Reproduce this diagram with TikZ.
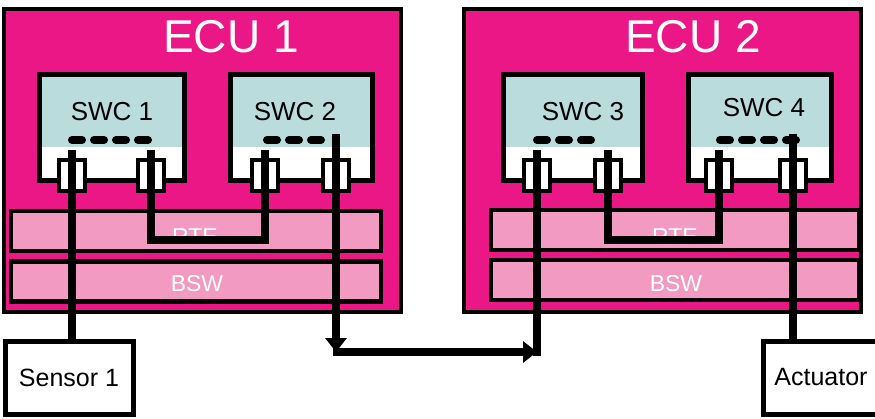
\documentclass[tikz,border=0pt]{standalone}
\usepackage{fontspec}
\setmainfont{Liberation Sans}
\usetikzlibrary{arrows.meta}

\definecolor{ecupink}{HTML}{EC1786}
\definecolor{layerpink}{HTML}{F39AC3}
\definecolor{swcblue}{HTML}{BADCDC}

\tikzset{
  ecu/.style={draw=black,line width=4.5pt,fill=ecupink,minimum width=397pt,minimum height=303pt,inner sep=0pt},
  layer/.style={draw=black,line width=4.5pt,fill=layerpink,minimum height=40pt,inner sep=0pt},
  swc/.style={draw=black,line width=5pt,fill=white,minimum height=106pt,inner sep=0pt,
    path picture={\fill[swcblue] (path picture bounding box.north west) rectangle ([yshift=33pt]path picture bounding box.south east);}},
  port/.style={draw=black,line width=4pt,fill=white,minimum width=26pt,minimum height=31pt,inner sep=0pt},
  ext/.style={draw=black,line width=5pt,fill=white,minimum height=73pt,inner sep=0pt,font=\fontsize{25}{28}\selectfont},
  wire/.style={line width=7.5pt},
  dashes/.style={line width=8pt,line cap=round,dash pattern=on 10pt off 12pt},
  tip/.style={-{Triangle[length=14pt,width=21pt]}}
}

\begin{document}
\begin{tikzpicture}[x=1pt,y=-1pt]
\useasboundingbox (0,0) rectangle (875,418);

% ECUs
\node[ecu] (ecu1) at (202.5,160.5) {};
\node[ecu] (ecu2) at (662.5,160.5) {};
\node[text=white,font=\fontsize{46}{50}\selectfont] at (231,37) {ECU 1};
\node[text=white,font=\fontsize{46}{50}\selectfont] at (693,37) {ECU 2};

% RTE and BSW
\node[layer,minimum width=370pt] (rte1) at (196,231) {};
\node[layer,minimum width=370pt] (bsw1) at (196,281.5) {};
\node[layer,minimum width=368pt] (rte2) at (675,230) {};
\node[layer,minimum width=368pt] (bsw2) at (675,280) {};
\node[text=white,font=\fontsize{23}{24}\selectfont,anchor=base] at (195,244) {RTE};
\node[text=white,font=\fontsize{23}{24}\selectfont] at (197,284) {BSW};
\node[text=white,font=\fontsize{23}{24}\selectfont,anchor=base] at (675,244) {RTE};
\node[text=white,font=\fontsize{23}{24}\selectfont] at (676,284) {BSW};

% software components
\node[swc,minimum width=145pt] (s1) at (111.5,127) {};
\node[swc,minimum width=142pt] (s2) at (301,127) {};
\node[swc,minimum width=139pt] (s3) at (572.5,127) {};
\node[swc,minimum width=143pt] (s4) at (759.5,127) {};
\node[font=\fontsize{26}{28}\selectfont] at (112,112) {SWC 1};
\node[font=\fontsize{26}{28}\selectfont] at (295,112) {SWC 2};
\node[font=\fontsize{26}{28}\selectfont] at (583,112) {SWC 3};
\node[font=\fontsize{26}{28}\selectfont] at (764,108) {SWC 4};

\draw[dashes] (72,140) -- (148,140);
\draw[dashes] (267,140) -- (321,140);
\draw[dashes] (537,140) -- (591,140);
\draw[dashes] (720,140) -- (796,140);

% ports
\node[port] (p11) at (72,175) {};
\node[port] (p12) at (151,175) {};
\node[port] (p21) at (265,175) {};
\node[port] (p22) at (336,175) {};
\node[port] (p31) at (537,175) {};
\node[port] (p32) at (608,175) {};
\node[port] (p41) at (719,175) {};
\node[port] (p42) at (793,175) {};

% sensor and actuator
\node[ext,minimum width=128pt] (sensor) at (69,377.5) {Sensor 1};
\node[ext,minimum width=116pt] (act) at (821,377.5) {Actuator};

% wires
\coordinate (j1) at (0,240);
\coordinate (j2) at (0,352);
\draw[wire] ([yshift=8pt]p11.north) -- (p11 |- sensor.north);
\draw[wire] ([yshift=8pt]p12.north) -- (p12 |- j1) -- (p21 |- j1) -- ([yshift=8pt]p21.north);
\draw[wire] ([yshift=8pt]p32.north) -- (p32 |- j1) -- (p41 |- j1) -- ([yshift=8pt]p41.north);
\draw[wire] ([yshift=24pt]p42.north) -- (p42 |- act.north);
\draw[wire,tip] ([yshift=24pt]p22.north) -- (p22 |- j2);
\draw[wire,tip] ([xshift=-3.5pt]p22 |- j2) -- (p31 |- j2);
\draw[wire] ([yshift=-3.5pt]p31 |- j2) -- ([yshift=8pt]p31.north);
\end{tikzpicture}
\end{document}
